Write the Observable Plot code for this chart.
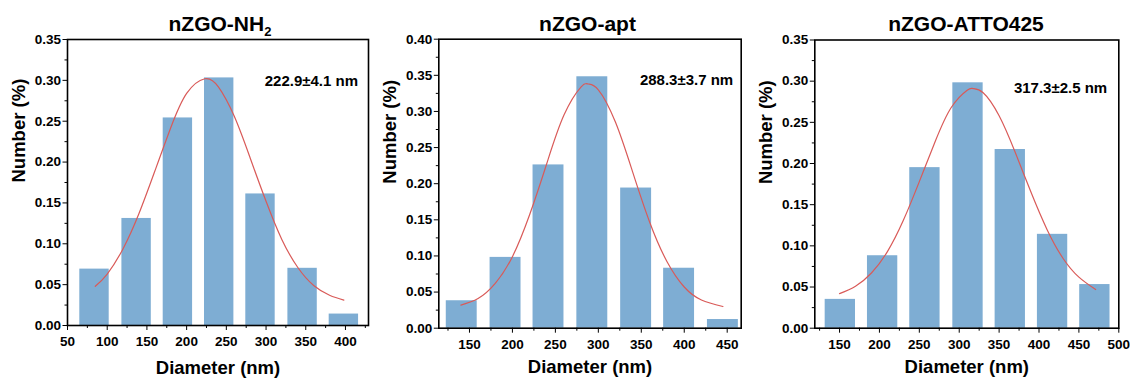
<!DOCTYPE html>
<html><head><meta charset="utf-8">
<script src="https://cdn.jsdelivr.net/npm/d3@7"></script>
<script src="https://cdn.jsdelivr.net/npm/@observablehq/plot@0.6"></script>
<style>
body{margin:0;background:#fff;}
#row{display:flex;width:1130px;height:380px;overflow:hidden;}
</style></head><body><div id="row"></div>
<script>
// ---- data ----
const titles = [["nZGO-NH","2"],["nZGO-apt",""],["nZGO-ATTO425",""]];
const annotations = ["222.9±4.1 nm","288.3±3.7 nm","317.3±2.5 nm"];
const xLabel = "Diameter (nm)";
const yLabel = "Number (%)";

const diam1 = [84, 137, 189, 241, 293, 346, 398];
const num1  = [0.069, 0.131, 0.254, 0.303, 0.161, 0.070, 0.014];
const fitX1 = [85, 100, 120, 140, 160, 180, 200, 222.9, 240, 260, 280, 300, 320, 340, 360, 380, 398];
const fitY1 = [0.048, 0.063, 0.094, 0.137, 0.189, 0.242, 0.284, 0.302, 0.292, 0.256, 0.205, 0.152, 0.105, 0.071, 0.049, 0.037, 0.031];

const diam2 = [141, 192, 242, 293, 344, 394, 445];
const num2  = [0.038, 0.098, 0.226, 0.348, 0.194, 0.083, 0.012];
const fitX2 = [140, 160, 180, 200, 220, 240, 260, 280, 288.3, 300, 320, 340, 360, 380, 400, 420, 445];
const fitY2 = [0.032, 0.041, 0.062, 0.099, 0.157, 0.228, 0.295, 0.334, 0.338, 0.330, 0.285, 0.216, 0.146, 0.092, 0.057, 0.039, 0.030];

const diam3 = [151, 204, 257, 311, 364, 417, 470];
const num3  = [0.035, 0.088, 0.195, 0.298, 0.217, 0.114, 0.053];
const fitX3 = [150, 170, 190, 210, 230, 250, 270, 290, 310, 317.3, 330, 350, 370, 390, 410, 430, 450, 471];
const fitY3 = [0.042, 0.051, 0.067, 0.093, 0.131, 0.178, 0.227, 0.268, 0.289, 0.291, 0.286, 0.258, 0.214, 0.165, 0.120, 0.085, 0.062, 0.047];

const xTicks1 = [50, 100, 150, 200, 250, 300, 350, 400];
const xMinor1 = [75, 125, 175, 225, 275, 325, 375, 425];
const xTicks2 = [150, 200, 250, 300, 350, 400, 450];
const xMinor2 = [125, 175, 225, 275, 325, 375, 425];
const xTicks3 = [150, 200, 250, 300, 350, 400, 450, 500];
const xMinor3 = [125, 175, 225, 275, 325, 375, 425, 475];
const yTicks135 = [0, 0.05, 0.10, 0.15, 0.20, 0.25, 0.30, 0.35];
const yMinor135 = [0.025, 0.075, 0.125, 0.175, 0.225, 0.275, 0.325];
const yTicks2 = [0, 0.05, 0.10, 0.15, 0.20, 0.25, 0.30, 0.35, 0.40];
const yMinor2 = [0.025, 0.075, 0.125, 0.175, 0.225, 0.275, 0.325, 0.375];

// ---- layout / style ----
const BAR = "#7eadd3", RED = "#d95a58";
const FONT = "'Liberation Sans', Arial, Helvetica, sans-serif";
const layouts = [
  {width:376, ml:67,   mr:8,    mt:39,   mb:55,   xDomain:[50,429],      yMax:0.35, bw:37, titleX:220,   xlDy:48,   annDx:-10.5, annDy:36},
  {width:376, ml:62.3, mr:11.3, mt:38.7, mb:52.3, xDomain:[114.3,466.3], yMax:0.40, bw:36, titleX:211.5, xlDy:44.5, annDx:-8,    annDy:35.6},
  {width:378, ml:62.3, mr:11.7, mt:39.5, mb:52.3, xDomain:[119,500],     yMax:0.35, bw:38, titleX:214,   xlDy:44.5, annDx:-11.6, annDy:42.7}
];
const panels = [
  {diam:diam1, num:num1, fx:fitX1, fy:fitY1, xT:xTicks1, xM:xMinor1, yT:yTicks135, yM:yMinor135},
  {diam:diam2, num:num2, fx:fitX2, fy:fitY2, xT:xTicks2, xM:xMinor2, yT:yTicks2,   yM:yMinor2},
  {diam:diam3, num:num3, fx:fitX3, fy:fitY3, xT:xTicks3, xM:xMinor3, yT:yTicks135, yM:yMinor135}
];

const row = document.getElementById("row");
panels.forEach((p, i) => {
  const L = layouts[i];
  const bars = p.diam.map((d, j) => ({d, n: p.num[j]}));
  const fit = p.fx.map((x, j) => ({x, y: p.fy[j]}));
  const chart = Plot.plot({
    width: L.width, height: 380,
    marginLeft: L.ml, marginRight: L.mr, marginTop: L.mt, marginBottom: L.mb,
    x: {domain: L.xDomain},
    y: {domain: [0, L.yMax]},
    style: {fontFamily: FONT, fontSize: "13.5px", fontWeight: "bold", color: "#000", background: "#fff", overflow: "visible"},
    marks: [
      Plot.rectY(bars, {x1: d => d.d - L.bw / 2, x2: d => d.d + L.bw / 2, y: "n", fill: BAR}),
      Plot.line(fit, {x: "x", y: "y", stroke: RED, strokeWidth: 1.2, curve: "natural"}),
      Plot.frame({stroke: "#000", strokeWidth: 1.6}),
      Plot.axisY(p.yT, {tickSize: 4.5, tickPadding: 2, tickFormat: d3.format(".2f"), label: null, fontSize: 13.5, fontWeight: "bold"}),
      Plot.axisY(p.yM, {tickSize: 2.5, text: null, label: null}),
      Plot.axisX(p.xT, {tickSize: 5, tickPadding: 6, tickFormat: d3.format("d"), label: null, fontSize: 13.5, fontWeight: "bold"}),
      Plot.axisX(p.xM, {tickSize: 3, text: null, label: null}),
      Plot.text([xLabel], {text: d => d, frameAnchor: "bottom", dy: L.xlDy, fontSize: 18.5, fontWeight: "bold"}),
      Plot.text([yLabel], {text: d => d, frameAnchor: "left", dx: -48.5, rotate: -90, fontSize: 18.5, fontWeight: "bold"}),
      Plot.text([annotations[i]], {text: d => d, frameAnchor: "top-right", textAnchor: "end", dx: L.annDx, dy: L.annDy, fontSize: 15, fontWeight: "bold"})
    ]
  });
  const svg = d3.select(chart);
  const t = svg.append("text")
    .attr("x", L.titleX).attr("y", 30.7)
    .attr("text-anchor", "middle").attr("font-size", 21).attr("font-weight", "bold")
    .attr("fill", "#000").attr("font-family", FONT);
  t.append("tspan").text(titles[i][0]);
  if (titles[i][1]) t.append("tspan").attr("font-size", 13).attr("dy", 5.5).text(titles[i][1]);
  row.appendChild(chart);
});
</script></body></html>
